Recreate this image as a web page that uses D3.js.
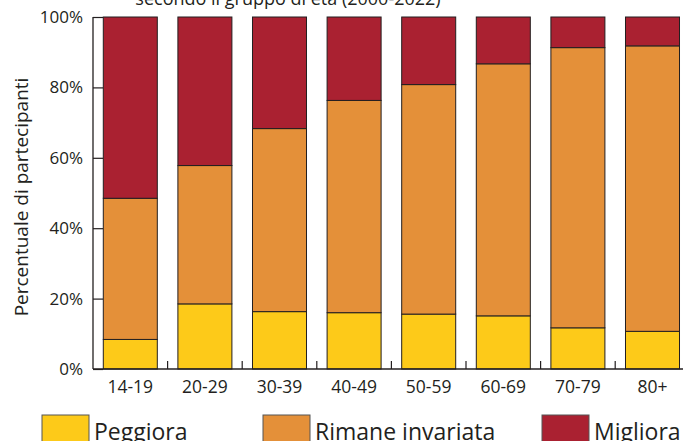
<!DOCTYPE html>
<html>
<head>
<meta charset="utf-8">
<script src="https://cdn.jsdelivr.net/npm/d3@7"></script>
<style>
  html, body { margin: 0; padding: 0; background: #fff; }
  svg { display: block; font-family: "Open Sans", "Noto Sans", sans-serif; }
</style>
</head>
<body>
<svg id="chart" width="683" height="441"></svg>
<script>
const categories = ["14-19", "20-29", "30-39", "40-49", "50-59", "60-69", "70-79", "80+"];
const peggiora = [8.4, 18.5, 16.3, 16.0, 15.6, 15.1, 11.7, 10.7];
const rimane   = [40.1, 39.3, 52.0, 60.3, 65.2, 71.6, 79.6, 81.1];
const migliora = [51.5, 42.2, 31.7, 23.7, 19.2, 13.3, 8.7, 8.2];
const seriesNames = ["Peggiora", "Rimane invariata", "Migliora"];
const seriesKeys = ["peggiora", "rimane", "migliora"];
const colors = ["#fdca19", "#e49039", "#aa2131"];
const yTicks = [0, 20, 40, 60, 80, 100];
const title = "secondo il gruppo di età (2000-2022)";
const yTitle = "Percentuale di partecipanti";

const rows = categories.map((c, i) => ({
  cat: c, peggiora: peggiora[i], rimane: rimane[i], migliora: migliora[i]
}));

const svg = d3.select("#chart");
const ink = "#231f20";
const x0 = 93, step = 74.6;
const x = d3.scaleBand().domain(categories)
  .range([x0, x0 + step * categories.length])
  .paddingInner(0.276).paddingOuter(0.138);
const y = d3.scaleLinear().domain([0, 100]).range([369, 17]);

const stack = d3.stack().keys(seriesKeys)(rows);

// bars
svg.append("g").selectAll("g").data(stack).join("g")
  .attr("fill", (d, i) => colors[i])
  .selectAll("rect").data(d => d).join("rect")
  .attr("x", d => x(d.data.cat))
  .attr("width", x.bandwidth())
  .attr("y", d => y(d[1]))
  .attr("height", d => y(d[0]) - y(d[1]))
  .attr("stroke", ink)
  .attr("stroke-width", 1);

// y axis: line with inward ticks
const yAxis = d3.axisRight(y).tickValues(yTicks).tickSize(10).tickFormat("");
const gy = svg.append("g").attr("transform", `translate(${x0},0)`).call(yAxis);
gy.select(".domain").attr("d", `M0,${y(100)}V${y(0)}`).attr("stroke", ink).attr("stroke-width", 1.3);
gy.selectAll(".tick line").attr("stroke", ink).attr("stroke-width", 1.2);

// y tick labels
svg.append("g").selectAll("text").data(yTicks).join("text")
  .attr("x", 83).attr("y", d => y(d) + 6)
  .attr("text-anchor", "end")
  .attr("font-size", 17).attr("fill", ink)
  .text(d => d + "%");

// x axis: baseline, ticks between bands
const gx = svg.append("g");
gx.append("line").attr("x1", x0).attr("x2", x0 + step * categories.length)
  .attr("y1", y(0)).attr("y2", y(0)).attr("stroke", ink).attr("stroke-width", 1.5);
gx.selectAll("line.sep").data(categories.slice(1)).join("line").attr("class", "sep")
  .attr("x1", d => x(d) - x.step() * x.paddingInner() / 2)
  .attr("x2", d => x(d) - x.step() * x.paddingInner() / 2)
  .attr("y1", y(0)).attr("y2", y(0) - 8)
  .attr("stroke", ink).attr("stroke-width", 1.2);
gx.selectAll("text").data(categories).join("text")
  .attr("x", d => x(d) + x.bandwidth() / 2)
  .attr("y", 393)
  .attr("text-anchor", "middle")
  .attr("font-size", 17.5).attr("fill", ink)
  .text(d => d);

// y title
svg.append("text")
  .attr("transform", `translate(28,197) rotate(-90)`)
  .attr("text-anchor", "middle")
  .attr("font-size", 19).attr("fill", ink)
  .text(yTitle);

// title (cut at top, as in the reference)
svg.append("text")
  .attr("x", 288).attr("y", 5)
  .attr("text-anchor", "middle")
  .attr("font-size", 18).attr("fill", ink)
  .text(title);

// legend
const legendX = [42, 263, 542];
const lg = svg.append("g").selectAll("g").data(seriesNames).join("g")
  .attr("transform", (d, i) => `translate(${legendX[i]},415)`);
lg.append("rect").attr("width", 47).attr("height", 32)
  .attr("fill", (d, i) => colors[i]).attr("stroke", "#555").attr("stroke-width", 1);
lg.append("text").attr("x", 52).attr("y", 25)
  .attr("font-size", 23).attr("fill", ink)
  .text(d => d);
</script>
</body>
</html>
